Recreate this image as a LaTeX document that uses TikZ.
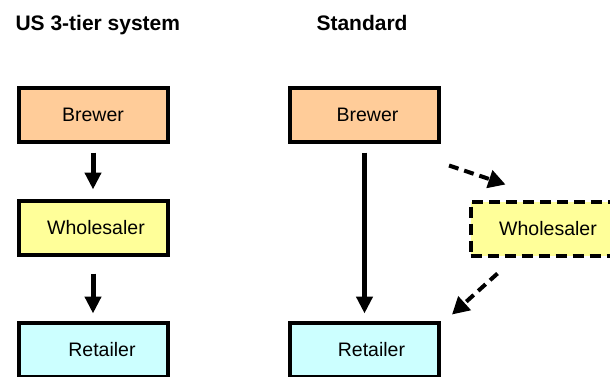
\documentclass[tikz,border=0pt]{standalone}
\usepackage{fontspec}
\setmainfont{Liberation Sans}
\usetikzlibrary{arrows.meta}

\definecolor{brewfill}{HTML}{FFCC99}
\definecolor{wholefill}{HTML}{FFFF99}
\definecolor{retfill}{HTML}{CCFFFF}

\begin{document}
\begin{tikzpicture}[x=1pt,y=1pt,
    tier/.style={draw, line width=4pt, minimum width=149pt, minimum height=54pt,
      inner sep=0pt, font=\fontsize{19.5}{23}\selectfont},
    heading/.style={anchor=base west, font=\fontsize{21}{25}\selectfont\bfseries},
    flow/.style={line width=5pt, -{Triangle[width=16pt,length=17pt]}},
    dashflow/.style={line width=4pt, dash pattern=on 10pt off 6pt,
      -{Triangle[width=18pt,length=17pt]}}]
  \clip (0,0) rectangle (610,376);

  % column headings
  \node[heading] (usttl) at (12,346) {US 3-tier system};
  \node[heading] (stdttl) at (313,346) {Standard};

  % three tiers, US
  \node[tier, fill=brewfill] (lbrew) at (93,261.5) {Brewer};
  \node[tier, fill=wholefill] (lwhole) at (93,148.5) {\hspace*{6pt}Wholesaler};
  \node[tier, fill=retfill] (lret) at (93,26.5) {\hspace*{18pt}Retailer};
  \draw[flow, shorten <=9pt, shorten >=9pt] (lbrew.south) -- (lwhole.north);
  \draw[flow, shorten <=17pt, shorten >=7pt] (lwhole.south) -- (lret.north);

  % standard: wholesaler optional
  \node[tier, fill=brewfill] (rbrew) at (364.5,261.5) {\hspace*{6pt}Brewer};
  \node[tier, fill=retfill] (rret) at (364.5,26.5) {\hspace*{14pt}Retailer};
  \node[tier, fill=wholefill, dash pattern=on 11pt off 6pt] (rwhole) at (545,147.5)
    {\hspace*{6pt}Wholesaler};
  \draw[flow, shorten <=9pt, shorten >=7pt] (rbrew.south) -- (rret.north);
  \draw[dashflow] ([shift={(8,-22)}]rbrew.south east) -- ([shift={(37,15)}]rwhole.north west);
  \draw[dashflow] ([shift={(29,-16)}]rwhole.south west) -- ([shift={(11,6)}]rret.north east);
\end{tikzpicture}
\end{document}
